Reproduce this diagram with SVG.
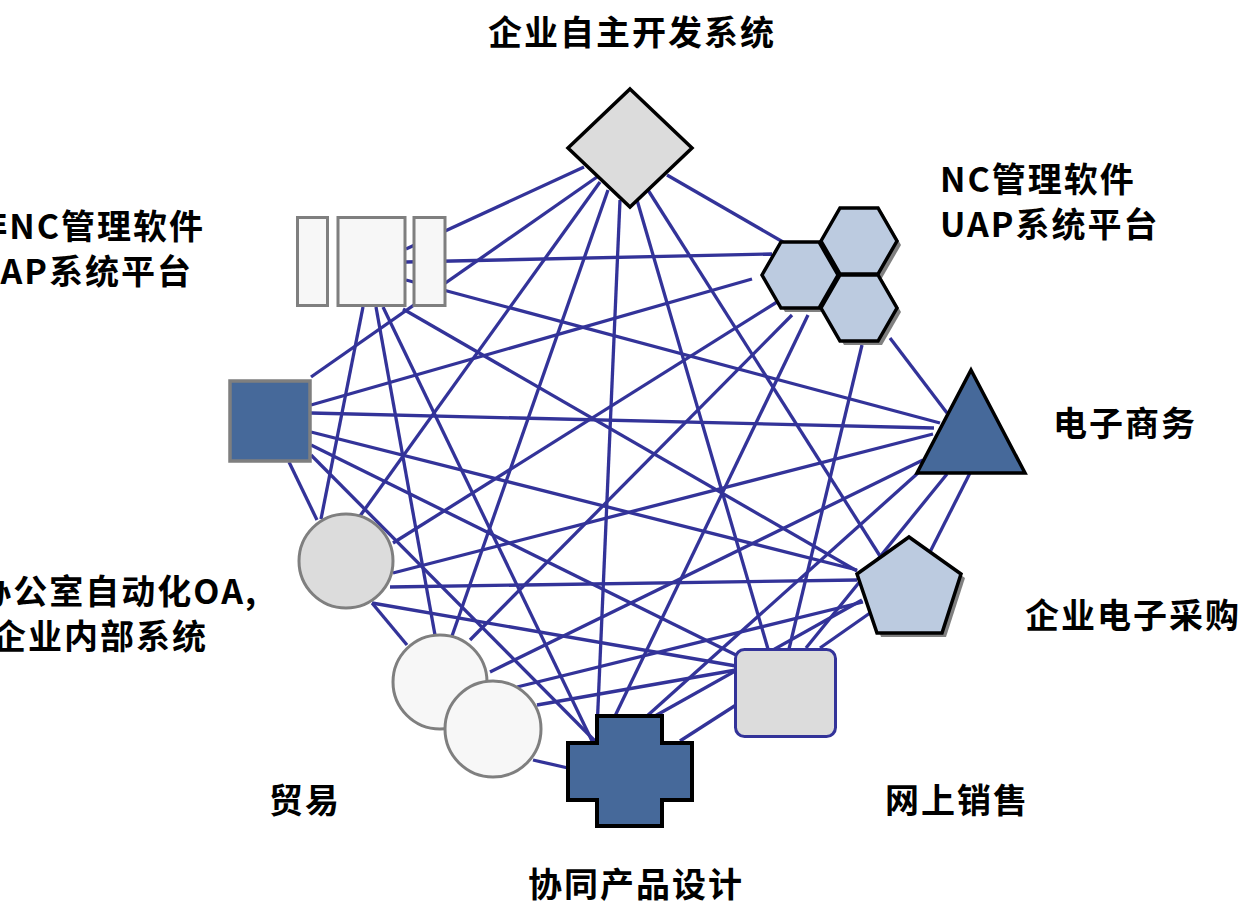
<svg xmlns="http://www.w3.org/2000/svg" width="1248" height="903" viewBox="0 0 1248 903">
<style>
.e{stroke:#333399;stroke-width:3.3;fill:none}
.lbl{font-family:"Noto Sans CJK SC","Noto Sans",sans-serif;font-weight:bold;font-size:34px;letter-spacing:2px;fill:#000}
.dk{fill:#46699a}
.lb{fill:#bccbe0}
.lg{fill:#dcdcdc}
.wh{fill:#f7f7f7}
.bk{stroke:#000;stroke-width:3.5;stroke-linejoin:miter}
.gy{stroke:#7f7f7f;stroke-width:3}
.sh{fill:#808080}
</style>
<rect width="1248" height="903" fill="#fff"/>
<g id="connectors">
<line class="e" x1="584" y1="167" x2="406" y2="249"/>
<line class="e" x1="597" y1="177" x2="311" y2="377"/>
<line class="e" x1="600" y1="182" x2="360" y2="516"/>
<line class="e" x1="608" y1="190" x2="452" y2="636"/>
<line class="e" x1="620" y1="200" x2="597" y2="730"/>
<line class="e" x1="637" y1="200" x2="768" y2="649"/>
<line class="e" x1="648" y1="190" x2="880" y2="556"/>
<line class="e" x1="667" y1="175" x2="783" y2="242"/>
<line class="e" x1="406" y1="262" x2="772" y2="254"/>
<line class="e" x1="406" y1="280" x2="940" y2="423"/>
<line class="e" x1="363" y1="307" x2="321" y2="519"/>
<line class="e" x1="376" y1="307" x2="435" y2="635"/>
<line class="e" x1="383" y1="307" x2="593" y2="743"/>
<line class="e" x1="403" y1="309" x2="857" y2="571"/>
<line class="e" x1="311" y1="405" x2="752" y2="279"/>
<line class="e" x1="311" y1="413" x2="934" y2="428"/>
<line class="e" x1="311" y1="432" x2="857" y2="570"/>
<line class="e" x1="311" y1="445" x2="736" y2="655"/>
<line class="e" x1="311" y1="455" x2="597" y2="743"/>
<line class="e" x1="289" y1="462" x2="317" y2="520"/>
<line class="e" x1="777" y1="302" x2="393" y2="543"/>
<line class="e" x1="792" y1="315" x2="470" y2="640"/>
<line class="e" x1="808" y1="315" x2="615" y2="716"/>
<line class="e" x1="862" y1="345" x2="789" y2="649"/>
<line class="e" x1="890" y1="338" x2="947" y2="413"/>
<line class="e" x1="933" y1="434" x2="393" y2="573"/>
<line class="e" x1="923" y1="460" x2="490" y2="672"/>
<line class="e" x1="918" y1="473" x2="647" y2="716"/>
<line class="e" x1="947" y1="474" x2="806" y2="648"/>
<line class="e" x1="970" y1="473" x2="930" y2="552"/>
<line class="e" x1="390" y1="587" x2="857" y2="580"/>
<line class="e" x1="372" y1="603" x2="736" y2="666"/>
<line class="e" x1="372" y1="603" x2="407" y2="645"/>
<line class="e" x1="863" y1="602" x2="517" y2="687"/>
<line class="e" x1="870" y1="613" x2="820" y2="648"/>
<line class="e" x1="862" y1="600" x2="655" y2="716"/>
<line class="e" x1="537" y1="705" x2="736" y2="670"/>
<line class="e" x1="533" y1="760" x2="568" y2="768"/>
<line class="e" x1="680" y1="741" x2="736" y2="705"/>
</g>
<g id="node-diamond">
<polygon class="lg bk" points="630,89 692,148 630,207 568,148"/>
<text class="lbl" x="632" y="45" text-anchor="middle">企业自主开发系统</text>
</g>
<g id="node-hex">
<g transform="translate(4,4)" class="sh">
<polygon points="762,275 781,242 819,242 838,275 819,308 781,308"/>
<polygon points="821,241 840,208 878,208 897,241 878,274 840,274"/>
<polygon points="821,308 840,275 878,275 897,308 878,341 840,341"/>
</g>
<polygon class="lb bk" points="762,275 781,242 819,242 838,275 819,308 781,308"/>
<polygon class="lb bk" points="821,241 840,208 878,208 897,241 878,274 840,274"/>
<polygon class="lb bk" points="821,308 840,275 878,275 897,308 878,341 840,341"/>
<text class="lbl" x="940" y="192">NC管理软件</text>
<text class="lbl" x="940" y="237">UAP系统平台</text>
</g>
<g id="node-rects">
<rect class="wh gy" x="297.5" y="217.5" width="30" height="88"/>
<rect class="wh gy" x="338" y="217.5" width="67" height="88"/>
<rect class="wh gy" x="414" y="217.5" width="31" height="88"/>
<text class="lbl" x="205" y="239" text-anchor="end">非NC管理软件</text>
<text class="lbl" x="193" y="284" text-anchor="end">UAP系统平台</text>
</g>
<g id="node-square">
<rect class="dk" x="230" y="381" width="80" height="80" stroke="#7f7f7f" stroke-width="3.5"/>
</g>
<g id="node-oa">
<circle class="lg gy" cx="346" cy="561" r="47"/>
<text class="lbl" x="258" y="604" text-anchor="end">办公室自动化OA,</text>
<text class="lbl" x="208" y="649" text-anchor="end">企业内部系统</text>
</g>
<g id="node-triangle">
<polygon class="dk bk" points="971,370 1025,473 917,473"/>
<text class="lbl" x="1053" y="436">电子商务</text>
</g>
<g id="node-pentagon">
<polygon class="sh" points="913,541 965,578 946,637 881,637 861,578"/>
<polygon class="lb bk" points="909,537 961,574 942,633 877,633 857,574"/>
<text class="lbl" x="1025" y="628">企业电子采购</text>
</g>
<g id="node-trade">
<circle class="wh gy" cx="440" cy="682" r="47"/>
<circle class="wh gy" cx="493" cy="729" r="48"/>
<text class="lbl" x="269" y="813">贸易</text>
</g>
<g id="node-cross">
<polygon class="dk" stroke="#000" stroke-width="4" points="597,716 662,716 662,743 692,743 692,800 662,800 662,826 597,826 597,800 568,800 568,743 597,743"/>
<text class="lbl" x="636" y="897" text-anchor="middle">协同产品设计</text>
</g>
<g id="node-web">
<rect class="lg" x="735.5" y="649.5" width="100" height="87" rx="9" stroke="#333399" stroke-width="3"/>
<text class="lbl" x="885" y="813">网上销售</text>
</g>
</svg>
